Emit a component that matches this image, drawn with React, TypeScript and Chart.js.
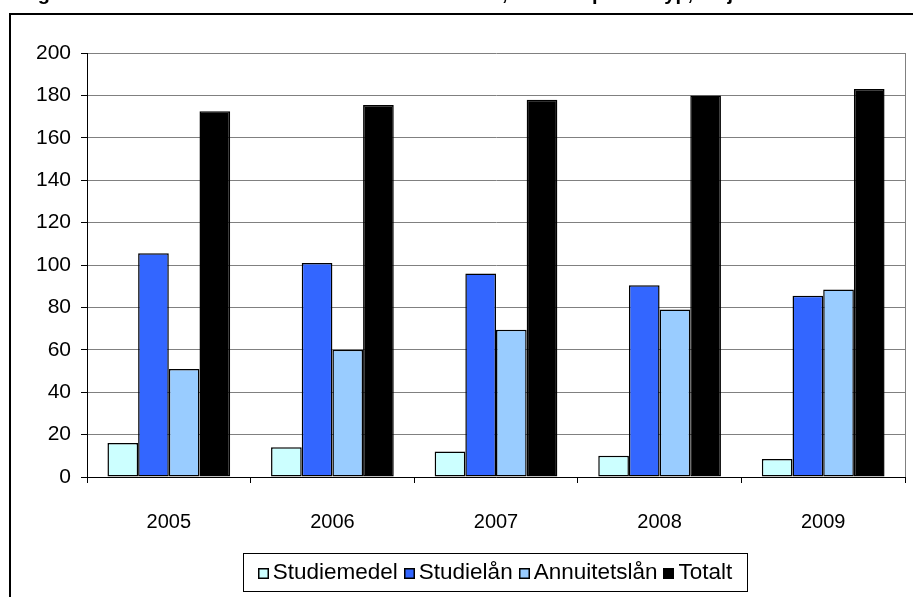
import React, { useEffect, useRef } from 'react';
import { Chart, registerables } from 'chart.js';

Chart.register(...registerables);

const years = ['2005', '2006', '2007', '2008', '2009'];
const studiemedel = [16, 14, 12, 10, 8.5];
const studielan = [105.5, 101, 96, 90.5, 85.5];
const annuitetslan = [51, 60, 69.5, 79, 88.5];
const totalt = [172.5, 175.5, 178, 180, 183];
const seriesLabels = ['Studiemedel', 'Studielån', 'Annuitetslån', 'Totalt'];
const seriesColors = ['#CCFFFF', '#3366FF', '#99CCFF', '#000000'];
const titleText = 'Figur 5 Total utestående skuld hos CSN 2005–2009, fördelat per låntyp, miljarder kronor';

const FONT = '"Liberation Sans", Arial, sans-serif';

const decorPlugin = {
  id: 'decor',
  afterDraw(chart: any) {
    const ctx = chart.ctx as CanvasRenderingContext2D;
    const area = chart.chartArea;
    ctx.save();
    // clipped title
    ctx.fillStyle = '#000';
    ctx.font = `bold 20px ${FONT}`;
    ctx.textBaseline = 'alphabetic';
    ctx.textAlign = 'left';
    ctx.fillText(titleText, 20, 0);
    // outer frame
    ctx.fillRect(9, 13, 904, 2);
    ctx.fillRect(9, 13, 2, 584);
    // plot area right border
    ctx.strokeStyle = '#808080';
    ctx.lineWidth = 1;
    ctx.beginPath();
    ctx.moveTo(Math.round(area.right) + 0.5, area.top);
    ctx.lineTo(Math.round(area.right) + 0.5, area.bottom);
    ctx.stroke();
    // legend
    const boxL = 243, boxT = 553, boxW = 504, boxH = 38;
    ctx.strokeStyle = '#000';
    ctx.lineWidth = 1;
    ctx.strokeRect(boxL + 0.5, boxT + 0.5, boxW, boxH);
    ctx.font = `22.5px ${FONT}`;
    ctx.textBaseline = 'middle';
    const sq = 11, gapSq = 4, gapItem = 6;
    const widths = seriesLabels.map((l) => ctx.measureText(l).width);
    const total = widths.reduce((a, b) => a + b, 0) + seriesLabels.length * (sq + gapSq) + (seriesLabels.length - 1) * gapItem;
    let x = boxL + (boxW - total) / 2;
    const cy = boxT + boxH / 2 + 1;
    seriesLabels.forEach((l, i) => {
      ctx.fillStyle = seriesColors[i];
      ctx.fillRect(Math.round(x), Math.round(cy - sq / 2), sq, sq);
      ctx.strokeStyle = '#000';
      ctx.lineWidth = 1.5;
      ctx.strokeRect(Math.round(x) + 0.75, Math.round(cy - sq / 2) + 0.75, sq - 1.5, sq - 1.5);
      x += sq + gapSq;
      ctx.fillStyle = '#000';
      ctx.fillText(l, x, cy);
      x += widths[i] + gapItem;
    });
    ctx.restore();
  },
};

export default function App() {
  const ref = useRef<HTMLCanvasElement>(null);
  useEffect(() => {
    document.body.style.margin = '0';
    const series = [studiemedel, studielan, annuitetslan, totalt];
    const chart = new Chart(ref.current as HTMLCanvasElement, {
      type: 'bar',
      data: {
        labels: years,
        datasets: series.map((d, i) => ({
          label: seriesLabels[i],
          data: d,
          backgroundColor: seriesColors[i],
          borderColor: '#000',
          borderWidth: 1.5,
          borderSkipped: false,
          categoryPercentage: 0.75,
          barPercentage: 1,
        })),
      },
      options: {
        responsive: false,
        animation: false,
        layout: { padding: { left: 20, top: 53, right: 8, bottom: 0 } },
        plugins: { legend: { display: false }, tooltip: { enabled: false }, title: { display: false } },
        scales: {
          x: {
            grid: { drawOnChartArea: false, offset: true, tickLength: 6, color: '#000' },
            border: { color: '#000', width: 1 },
            ticks: { color: '#000', font: { family: FONT, size: 20 }, padding: 27, maxRotation: 0 },
            afterFit: (s: any) => { s.height = 120; },
          },
          y: {
            min: 0,
            max: 200,
            ticks: { stepSize: 20, color: '#000', font: { family: FONT, size: 21 }, padding: 10 },
            grid: { color: '#808080', tickLength: 6, tickColor: '#000' },
            border: { color: '#000', width: 1 },
            afterFit: (s: any) => { s.width = 67; },
          },
        },
      },
      plugins: [decorPlugin],
    } as any);
    return () => chart.destroy();
  }, []);
  return <canvas ref={ref} width={913} height={597} style={{ display: 'block' }} />;
}
